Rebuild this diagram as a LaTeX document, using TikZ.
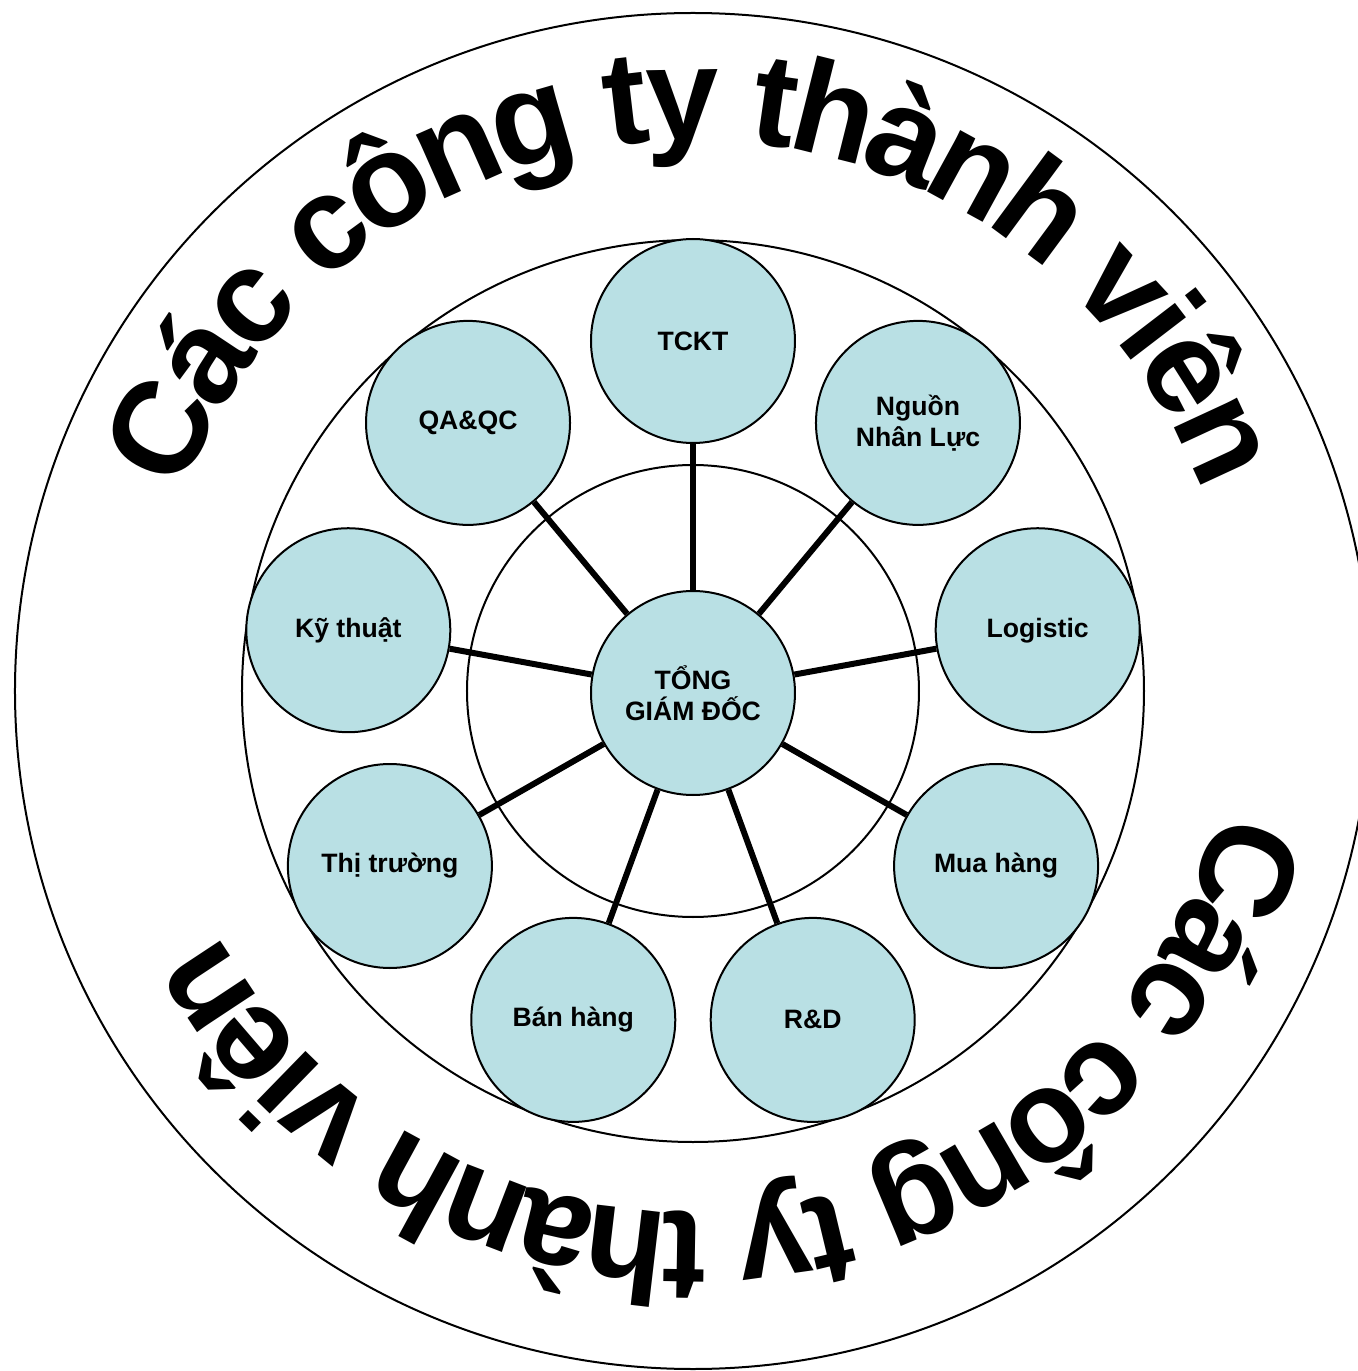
\documentclass[tikz,border=0pt]{standalone}
\usepackage{fontspec}
\setmainfont{Liberation Sans}
\XeTeXinputnormalization=1
\usetikzlibrary{decorations.text}

\definecolor{unitfill}{RGB}{185,224,228}
\newcommand{\ringfont}{\fontsize{66}{70}\selectfont\bfseries}

\begin{document}
\begin{tikzpicture}[
  x=0.5pt, y=0.5pt,
  unit/.style={circle, draw, line width=1pt, fill=unitfill, minimum size=102pt, inner sep=0pt, align=center, font=\fontsize{13.3}{15.5}\selectfont\bfseries},
  ring/.style={draw, line width=1pt},
  spoke/.style={draw, line width=3pt},
  ringtext/.style={decorate, decoration={text along path, text align=center, raise=-27.5pt, text format delimiters={|}{|}, text={|\ringfont|#1}}},
]
  \useasboundingbox (-693,-680) rectangle (665,691);
  \clip (-693,-680) rectangle (665,691);

  % rings
  \draw[ring] (0,0) circle (678);
  \draw[ring] (0,0) circle (451);
  \draw[ring] (0,0) circle (226);

  % curved titles
  \path[ringtext={C{á}c c{ô}ng ty th{à}nh vi{ê}n}] ([shift={(0,6)}]165:600) arc[start angle=165, end angle=15, radius=600];
  \path[ringtext={C{á}c c{ô}ng ty th{à}nh vi{ê}n}, decoration={raise=-35pt}] ([shift={(0,24)}]-8:615) arc[start angle=-8, end angle=-158, radius=615];

  % units
  \node[unit] (ceo) at (0,-2) {TỔNG\\GIÁM ĐỐC};
  \node[unit] (tckt) at (90:350) {TCKT};
  \node[unit] (hr) at (50:350) {Nguồn\\Nhân Lực};
  \node[unit] (logistic) at (10:350) {Logistic};
  \node[unit] (purchase) at (-30:350) {Mua hàng};
  \node[unit] (rnd) at (-70:350) {R\&D};
  \node[unit] (sales) at (-110:350) {Bán hàng};
  \node[unit] (market) at (-150:350) {Thị trường};
  \node[unit] (tech) at (170:350) {Kỹ thuật};
  \node[unit] (qaqc) at (130:350) {QA\&QC};

  % spokes
  \draw[spoke] (ceo) -- (tckt); \draw[spoke] (ceo) -- (hr);
  \draw[spoke] (ceo) -- (logistic); \draw[spoke] (ceo) -- (purchase);
  \draw[spoke] (ceo) -- (rnd); \draw[spoke] (ceo) -- (sales);
  \draw[spoke] (ceo) -- (market); \draw[spoke] (ceo) -- (tech);
  \draw[spoke] (ceo) -- (qaqc);
\end{tikzpicture}
\end{document}
